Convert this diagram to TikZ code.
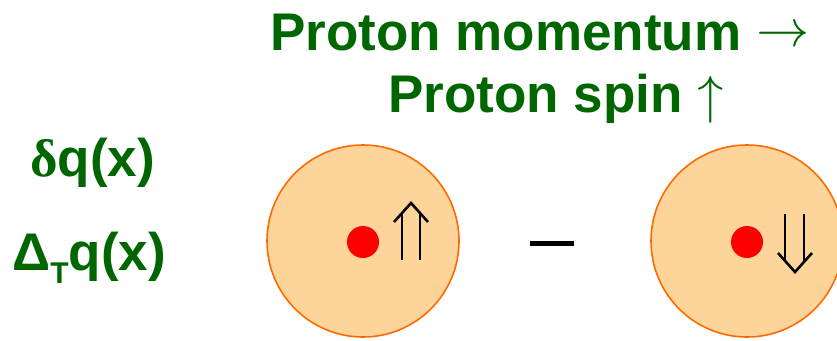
\documentclass[tikz,border=0pt]{standalone}
\usepackage{fontspec}
\setmainfont{Liberation Sans}
\newfontfamily\serifgr{Liberation Serif}
\newfontfamily\arrowfont{Latin Modern Math}
\definecolor{txtgreen}{HTML}{006600}
\definecolor{protonfill}{HTML}{FDD59A}
\definecolor{protonedge}{HTML}{FF6A00}
\definecolor{quarkred}{HTML}{FF0000}
\tikzset{
  heading/.style={font=\fontsize{53}{60}\selectfont\bfseries, text=txtgreen, inner sep=0pt, anchor=base west},
  label/.style={font=\fontsize{53}{60}\selectfont\bfseries, text=txtgreen, inner sep=0pt, anchor=base west},
  proton/.style={circle, fill=protonfill, draw=protonedge, line width=1.6pt, minimum size=192pt, inner sep=0pt},
  quark/.style={circle, fill=quarkred, minimum size=32pt, inner sep=0pt},
  spinarrow/.style={line width=2.6pt, line join=miter, black},
}
\begin{document}
\begin{tikzpicture}[x=1pt, y=-1pt]
\useasboundingbox (0,0) rectangle (837,340);
\clip (0,0) rectangle (837,340);
% headings
\node[heading] (h1) at (270,50) {Proton momentum \raisebox{4pt}{\arrowfont\mdseries →}};
\node[heading] (h2) at (388,112) {Proton spin {\arrowfont\mdseries ↑}};
% left labels
\node[label] (l1) at (30,176) {{\serifgr δ}q(x)};
\node[label] (l2) at (12,270) {Δ\raisebox{-13pt}{\fontsize{30}{33}\selectfont T}q(x)};
% protons
\node[proton] (p1) at (363,241) {};
\node[quark] (q1) at (363,242) {};
\node[proton] (p2) at (747,241) {};
\node[quark] (q2) at (747,242) {};
% minus
\node[fill=black, minimum width=44pt, minimum height=5pt, inner sep=0pt] (minus) at (552,243) {};
% double up arrow
\draw[spinarrow] (402,260) -- (402,213);
\draw[spinarrow] (420,260) -- (420,213);
\draw[spinarrow] (394,222) -- (411,203) -- (428,222);
% double down arrow
\draw[spinarrow] (785,214) -- (785,262);
\draw[spinarrow] (804,214) -- (804,262);
\draw[spinarrow] (778,253) -- (795,272) -- (812,253);
\end{tikzpicture}
\end{document}
